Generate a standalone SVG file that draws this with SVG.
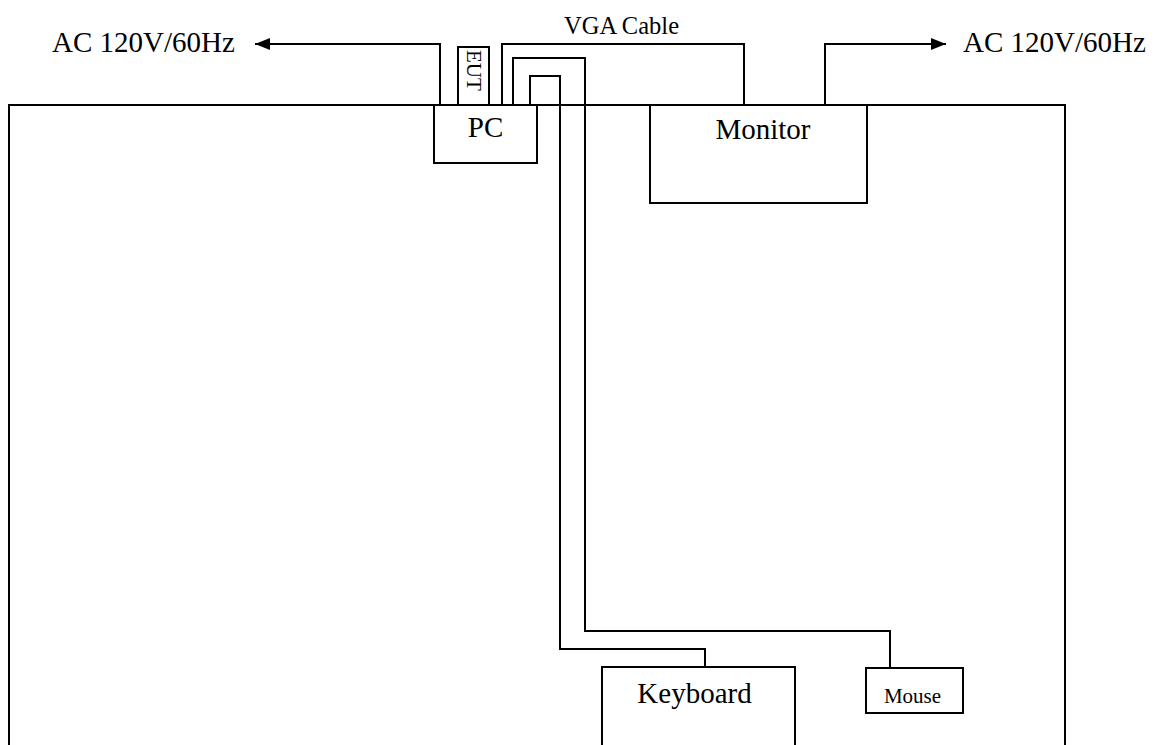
<svg xmlns="http://www.w3.org/2000/svg" width="1154" height="745" viewBox="0 0 1154 745">
<style>
.ln{fill:none;stroke:#000;stroke-width:2;stroke-linejoin:miter}
.bx{fill:#fff;stroke:#000;stroke-width:2}
.t{font-family:"Liberation Serif","Times New Roman",serif;fill:#000}
</style>
<defs>
<marker id="ah" viewBox="0 0 15 12" refX="15" refY="6" markerWidth="15" markerHeight="12" markerUnits="userSpaceOnUse" orient="auto">
<path d="M0,0 L15,6 L0,12 Z" fill="#000"/>
</marker>
</defs>
<rect width="1154" height="745" fill="#fff"/>
<g id="table"><rect class="bx" x="9" y="105" width="1056" height="660"/></g>
<g id="connectors">
<polyline class="ln" points="440,105 440,44 255,44" marker-end="url(#ah)"/>
<polyline class="ln" points="825,105 825,44 946,44" marker-end="url(#ah)"/>
<polyline class="ln" points="502,105 502,44 744,44 744,105"/>
<polyline class="ln" points="513,105 513,58 585,58 585,631 890,631 890,668"/>
<polyline class="ln" points="530,105 530,76 560,76 560,649 705,649 705,667"/>
</g>
<g id="ac-left"><text class="t" x="52" y="52" font-size="29">AC 120V/60Hz</text></g>
<g id="ac-right"><text class="t" x="963" y="52" font-size="29">AC 120V/60Hz</text></g>
<g id="vga-label"><text class="t" x="564" y="34" font-size="24.5">VGA Cable</text></g>
<g id="eut"><rect class="bx" x="458" y="47" width="31" height="58"/>
<text class="t" transform="translate(467,50) rotate(90)" font-size="21">EUT</text></g>
<g id="pc"><rect class="bx" x="434" y="105" width="103" height="58"/>
<text class="t" x="485.5" y="137" font-size="29" text-anchor="middle">PC</text></g>
<g id="monitor"><rect class="bx" x="650" y="105" width="217" height="98"/>
<text class="t" x="763" y="139" font-size="29" text-anchor="middle">Monitor</text></g>
<g id="keyboard"><rect class="bx" x="602" y="667" width="193" height="100"/>
<text class="t" x="694.5" y="703" font-size="29" text-anchor="middle">Keyboard</text></g>
<g id="mouse"><rect class="bx" x="866" y="668" width="97" height="45"/>
<text class="t" x="912.5" y="703" font-size="21" text-anchor="middle">Mouse</text></g>
</svg>
